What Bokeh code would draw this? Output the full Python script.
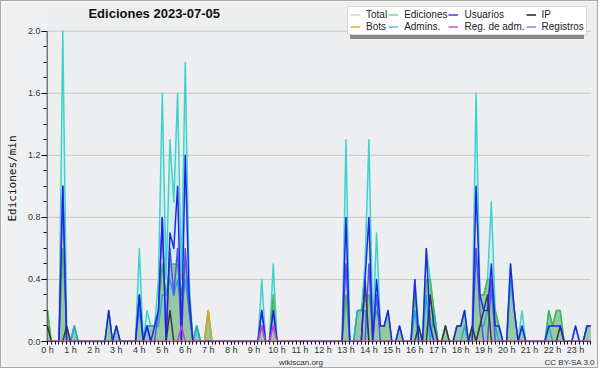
from bokeh.plotting import figure
from bokeh.models import (Range1d, FixedTicker, Legend, LegendItem, Label, Title,
                          ColumnDataSource, NumeralTickFormatter, LinearAxis)
from bokeh.embed import file_html
from bokeh.resources import INLINE

# ---------------- data (edits per minute, 10-minute slots, 2023-07-05 00:00-23:40) ----
slot_minutes = 10
slots = list(range(143))
hour_ticks = list(range(24))
hour_labels = [f"{h} h" for h in hour_ticks]
y_ticks = [0.0, 0.4, 0.8, 1.2, 1.6, 2.0]
y_minor = [0.0, 0.1, 0.2, 0.3, 0.4, 0.5, 0.6, 0.7, 0.8, 0.9, 1.0,
           1.1, 1.2, 1.3, 1.4, 1.5, 1.6, 1.7, 1.8, 1.9, 2.0]

total = [
    .2, 0, 0, 0, 2.0, .1, 0, .1, 0, 0, 0, 0,
    0, 0, 0, 0, .2, 0, .1, 0, 0, 0, 0, 0,
    .6, 0, .2, .1, .1, .4, 1.6, .4, 1.3, .9, 1.6, .4,
    1.8, .4, 0, .1, 0, 0, .2, 0, 0, 0, 0, 0,
    0, 0, 0, 0, 0, 0, 0, 0, .4, 0, 0, .5,
    0, 0, 0, 0, 0, 0, 0, 0, 0, 0, 0, 0,
    0, 0, 0, 0, 0, 0, 1.3, 0, 0, .2, .2, .5,
    1.3, .1, .7, .1, .1, .2, 0, 0, .1, 0, 0, 0,
    .4, .1, 0, .6, .4, .2, 0, 0, .1, 0, 0, .1,
    .1, .2, 0, .1, 1.6, .3, .3, .4, .9, .2, .1, 0,
    0, .5, .2, 0, .2, 0, 0, 0, 0, 0, 0, .2,
    .1, .2, .2, 0, 0, 0, .1, 0, 0, .1, .1,
]
ediciones = [
    .2, 0, 0, 0, .6, .1, 0, .1, 0, 0, 0, 0,
    0, 0, 0, 0, .2, 0, .1, 0, 0, 0, 0, 0,
    .3, 0, .1, .1, .1, .2, .5, .3, .5, .5, .5, .3,
    .5, .3, 0, .1, 0, 0, .2, 0, 0, 0, 0, 0,
    0, 0, 0, 0, 0, 0, 0, 0, .1, 0, 0, .3,
    0, 0, 0, 0, 0, 0, 0, 0, 0, 0, 0, 0,
    0, 0, 0, 0, 0, 0, .3, 0, 0, .2, .2, .3,
    .3, .1, .2, .1, .1, .2, 0, 0, .1, 0, 0, 0,
    .3, .1, 0, .4, .4, .2, 0, 0, .1, 0, 0, .1,
    .1, .2, 0, .1, .6, .3, .3, .4, .4, .2, .1, 0,
    0, .4, .2, 0, .1, 0, 0, 0, 0, 0, 0, .2,
    .1, .2, .2, 0, 0, 0, 0, 0, 0, .1, .1,
]
usuarios = [
    0, 0, 0, 0, 1.0, 0, 0, 0, 0, 0, 0, 0,
    0, 0, 0, 0, .2, 0, .1, 0, 0, 0, 0, 0,
    .3, 0, .1, 0, .1, .2, .8, 0, .7, .6, 1.0, 0,
    1.2, .3, 0, 0, 0, 0, 0, 0, 0, 0, 0, 0,
    0, 0, 0, 0, 0, 0, 0, 0, .2, 0, 0, .2,
    0, 0, 0, 0, 0, 0, 0, 0, 0, 0, 0, 0,
    0, 0, 0, 0, 0, 0, .8, 0, 0, 0, 0, .4,
    .8, 0, .4, .1, .1, .2, 0, 0, .1, 0, 0, 0,
    .4, 0, 0, .6, .1, 0, 0, 0, 0, 0, 0, .1,
    .1, .2, 0, 0, 1.0, .3, .2, .2, .5, .1, .1, 0,
    0, .5, .2, 0, .1, 0, 0, 0, 0, 0, 0, .1,
    .1, .1, .1, 0, 0, 0, .1, 0, 0, .1, .1,
]
ip = [
    .1, 0, 0, 0, 0, .1, 0, 0, 0, 0, 0, 0,
    0, 0, 0, 0, 0, 0, 0, 0, 0, 0, 0, 0,
    0, 0, 0, 0, 0, 0, 0, 0, .2, 0, 0, 0,
    0, 0, 0, 0, 0, 0, 0, 0, 0, 0, 0, 0,
    0, 0, 0, 0, 0, 0, 0, 0, 0, 0, 0, 0,
    0, 0, 0, 0, 0, 0, 0, 0, 0, 0, 0, 0,
    0, 0, 0, 0, 0, 0, 0, 0, 0, 0, 0, .4,
    0, 0, 0, 0, 0, 0, 0, 0, 0, 0, 0, 0,
    0, .1, 0, 0, .3, .1, 0, 0, .1, 0, 0, 0,
    0, 0, 0, .1, 0, .1, .2, .3, 0, 0, 0, 0,
    0, 0, 0, 0, 0, 0, 0, 0, 0, 0, 0, 0,
    0, 0, .1, 0, 0, 0, 0, 0, 0, 0, 0,
]
bots = [
    0, 0, 0, 0, 0, 0, 0, 0, 0, 0, 0, 0,
    0, 0, 0, 0, 0, 0, 0, 0, 0, 0, 0, 0,
    0, 0, 0, 0, 0, 0, 0, 0, 0, 0, 0, 0,
    0, 0, 0, 0, 0, 0, .2, 0, 0, 0, 0, 0,
    0, 0, 0, 0, 0, 0, 0, 0, 0, 0, 0, 0,
    0, 0, 0, 0, 0, 0, 0, 0, 0, 0, 0, 0,
    0, 0, 0, 0, 0, 0, 0, 0, 0, 0, 0, 0,
    0, 0, 0, 0, 0, 0, 0, 0, 0, 0, 0, 0,
    0, 0, 0, 0, 0, 0, 0, 0, 0, 0, 0, 0,
    0, 0, 0, 0, 0, 0, 0, 0, 0, 0, 0, 0,
    0, 0, 0, 0, 0, 0, 0, 0, 0, 0, 0, 0,
    0, 0, 0, 0, 0, 0, 0, 0, 0, 0, 0,
]
admins = [
    0, 0, 0, 0, 0, 0, 0, .1, 0, 0, 0, 0,
    0, 0, 0, 0, 0, 0, 0, 0, 0, 0, 0, 0,
    .2, 0, .1, .1, .1, .1, .3, .3, .4, .3, .4, .2,
    .4, .2, 0, .1, 0, 0, 0, 0, 0, 0, 0, 0,
    0, 0, 0, 0, 0, 0, 0, 0, .1, 0, 0, 0,
    0, 0, 0, 0, 0, 0, 0, 0, 0, 0, 0, 0,
    0, 0, 0, 0, 0, 0, 0, 0, 0, .2, .2, .2,
    0, 0, 0, 0, 0, 0, 0, 0, 0, 0, 0, 0,
    .2, 0, 0, .3, 0, .2, 0, 0, 0, 0, 0, 0,
    0, .1, 0, 0, 0, .1, .1, .2, .3, .1, 0, 0,
    0, .4, .2, 0, 0, 0, 0, 0, 0, 0, 0, .1,
    0, 0, 0, 0, 0, 0, 0, 0, 0, .1, .1,
]
reg_adm = [
    0, 0, 0, 0, 0, 0, 0, 0, 0, 0, 0, 0,
    0, 0, 0, 0, 0, 0, 0, 0, 0, 0, 0, 0,
    0, 0, 0, 0, 0, 0, 0, 0, 0, 0, 0, .1,
    0, 0, 0, 0, 0, 0, 0, 0, 0, 0, 0, 0,
    0, 0, 0, 0, 0, 0, 0, 0, .1, 0, 0, .1,
    0, 0, 0, 0, 0, 0, 0, 0, 0, 0, 0, 0,
    0, 0, 0, 0, 0, 0, 0, 0, 0, 0, 0, 0,
    0, 0, 0, 0, 0, 0, 0, 0, 0, 0, 0, 0,
    0, 0, 0, 0, 0, 0, 0, 0, 0, 0, 0, 0,
    0, 0, 0, 0, 0, 0, 0, 0, 0, 0, 0, 0,
    0, 0, 0, 0, 0, 0, 0, 0, 0, 0, 0, 0,
    0, 0, 0, 0, 0, 0, 0, 0, 0, 0, 0,
]
registros = [
    0, 0, 0, 0, 1.0, 0, 0, 0, 0, 0, 0, 0,
    0, 0, 0, 0, 0, 0, 0, 0, 0, 0, 0, 0,
    .3, 0, .1, 0, 0, .2, .8, 0, .6, .3, .6, 0,
    .6, .2, 0, 0, 0, 0, 0, 0, 0, 0, 0, 0,
    0, 0, 0, 0, 0, 0, 0, 0, .2, 0, 0, .2,
    0, 0, 0, 0, 0, 0, 0, 0, 0, 0, 0, 0,
    0, 0, 0, 0, 0, 0, .5, 0, 0, 0, 0, 0,
    .5, 0, .3, 0, 0, 0, 0, 0, 0, 0, 0, 0,
    0, 0, 0, 0, 0, 0, 0, 0, 0, 0, 0, 0,
    0, 0, 0, 0, .6, .2, 0, 0, .4, 0, 0, 0,
    0, 0, 0, 0, 0, 0, 0, 0, 0, 0, 0, 0,
    0, 0, 0, 0, 0, 0, 0, 0, 0, 0, 0,
]

legend_names = ["Total", "Ediciones", "Usuarios", "IP",
                "Bots", "Admins.", "Reg. de adm.", "Registros"]
legend_cols = ["total", "ediciones", "usuarios", "ip",
               "bots", "admins", "reg_adm", "registros"]
legend_colors = ["#aee6e0", "#88d088", "#3c3ce0", "#222222",
                 "#f0a040", "#4cc4e0", "#d050e0", "#8484ec"]
title_text = "Ediciones  2023-07-05"
y_title = "Ediciones/min"
footer_ticks = [11.04, 22.75]
footer_labels = ["wikiscan.org", "CC BY-SA 3.0"]

# ---------------- layout constants ----------------
hours = [s * slot_minutes / 60 for s in slots]
x_last = hours[-1]
px_per_hour = 23.0
x_start = -1.0 / px_per_hour
x_end = x_start + 554 / px_per_hour
y_end = 2.0 * 343 / 313

src = ColumnDataSource(dict(x=hours, total=total, ediciones=ediciones,
                            usuarios=usuarios, ip=ip, bots=bots, admins=admins,
                            reg_adm=reg_adm, registros=registros))

p = figure(width=598, height=368, output_backend="svg", toolbar_location=None,
           title=None, x_range=Range1d(x_start, x_end), y_range=Range1d(0, y_end),
           min_border_left=44, min_border_right=0, min_border_top=0,
           min_border_bottom=25)
p.styles = {"border": "1px solid #a8a8a8"}
p.background_fill_color = "#eceef0"
p.border_fill_color = "#eff0f1"
p.outline_line_color = None
p.xgrid.visible = False
p.ygrid.visible = False

# grid lines (only across the data span, up to 2.0)
p.segment(x0=[x_start] * 5, y0=y_ticks[1:], x1=[x_last] * 5, y1=y_ticks[1:],
          line_color="#c8c8c8", line_width=1)

# areas
p.varea(x="x", y1=0, y2="total", source=src, fill_color="#d4eded", fill_alpha=1.0)
p.varea(x="x", y1=0, y2="ediciones", source=src, fill_color="#8cc596", fill_alpha=0.88)

# lines
line_specs = [("total", "#3ed2cb"), ("ediciones", "#48b848"), ("admins", "#22a8e0"),
              ("registros", "#5252f0"), ("ip", "#383838"), ("usuarios", "#2424e6"),
              ("bots", "#f0a020"), ("reg_adm", "#c83cdc")]
for col, c in line_specs:
    p.line(x="x", y=col, source=src, line_color=c, line_width=1.5, line_join="round")

# axis lines (limited to data span)
hx = 0.5 / px_per_hour
hy = 0.5 * y_end / 343
p.segment(x0=[x_start + hx, x_start], y0=[0, -hy], x1=[x_start + hx, x_last],
          y1=[2.0, -hy], line_color="#000000", line_width=1)

# axes
ax = p.xaxis[0]
ax.ticker = FixedTicker(ticks=hour_ticks, minor_ticks=hours)
ax.major_label_overrides = {h: lab for h, lab in zip(hour_ticks, hour_labels)}
ax.major_tick_in = 0
ax.major_tick_out = 3
ax.minor_tick_in = 0
ax.minor_tick_out = 3
ax.major_label_standoff = 0
ax.axis_line_color = None
ax.major_tick_line_color = "#000000"
ax.minor_tick_line_color = "#000000"
ax.major_label_text_font = "Liberation Sans"
ax.major_label_text_font_size = "9px"
ax.major_label_text_color = "#333333"

foot = LinearAxis(ticker=FixedTicker(ticks=footer_ticks, minor_ticks=[]),
                  major_label_overrides={t: s for t, s in zip(footer_ticks, footer_labels)},
                  axis_line_color=None, major_tick_line_color=None,
                  minor_tick_line_color=None, major_tick_in=0, major_tick_out=0,
                  minor_tick_in=0, minor_tick_out=0, major_label_standoff=0,
                  major_label_text_font="Liberation Sans",
                  major_label_text_font_size="8px", major_label_text_color="#333333")
p.add_layout(foot, "below")

ay = p.yaxis[0]
ay.ticker = FixedTicker(ticks=y_ticks, minor_ticks=y_minor)
ay.formatter = NumeralTickFormatter(format="0.0")
ay.major_tick_in = 0
ay.major_tick_out = 5
ay.minor_tick_in = 0
ay.minor_tick_out = 3
ay.major_label_standoff = 1
ay.axis_line_color = None
ay.major_tick_line_color = "#000000"
ay.minor_tick_line_color = "#000000"
ay.major_label_text_font = "Liberation Sans"
ay.major_label_text_font_size = "9px"
ay.major_label_text_color = "#333333"

p.add_layout(Title(text=y_title, align="left", offset=120, standoff=8,
                   vertical_align="top",
                   text_font="DejaVu Sans Mono", text_font_size="11px",
                   text_font_style="normal", text_color="#111111"), "left")

# legend (with drop shadow); legend swatches use the legend colours
swatch = [p.line(x="x", y=col, source=src, line_color=c, line_width=1.5, visible=False)
          for col, c in zip(legend_cols, legend_colors)]
ghost = [p.line(x=[], y=[], line_color="#888888", line_alpha=0) for c in legend_colors]

common = dict(orientation="horizontal", ncols=4, glyph_width=10, glyph_height=9,
              label_height=9, label_standoff=6, spacing=1, padding=2, margin=0,
              label_text_font="Liberation Sans", label_text_font_size="10px",
              label_text_line_height=1.0, inactive_fill_alpha=0)
shadow = Legend(items=[LegendItem(label=n, renderers=[r]) for n, r in zip(legend_names, ghost)],
                location=(304.3, 302.4), background_fill_color="#888888", background_fill_alpha=1,
                border_line_color=None, label_text_alpha=0, **common)
legend = Legend(items=[LegendItem(label=n, renderers=[r]) for n, r in zip(legend_names, swatch)],
                location=(301, 305.7), background_fill_color="#ffffff", background_fill_alpha=1,
                border_line_color="#b4b4b4", label_text_color="#222222", **common)
p.add_layout(shadow)
p.add_layout(legend)

# chart title
p.add_layout(Label(x=109.5, y=328, x_units="screen", y_units="screen",
                   text=title_text, text_align="center", text_baseline="middle",
                   text_font="Liberation Sans", text_font_size="13px", text_font_style="bold",
                   text_color="#111111"))

open("out.html", "w").write(file_html(p, INLINE))
